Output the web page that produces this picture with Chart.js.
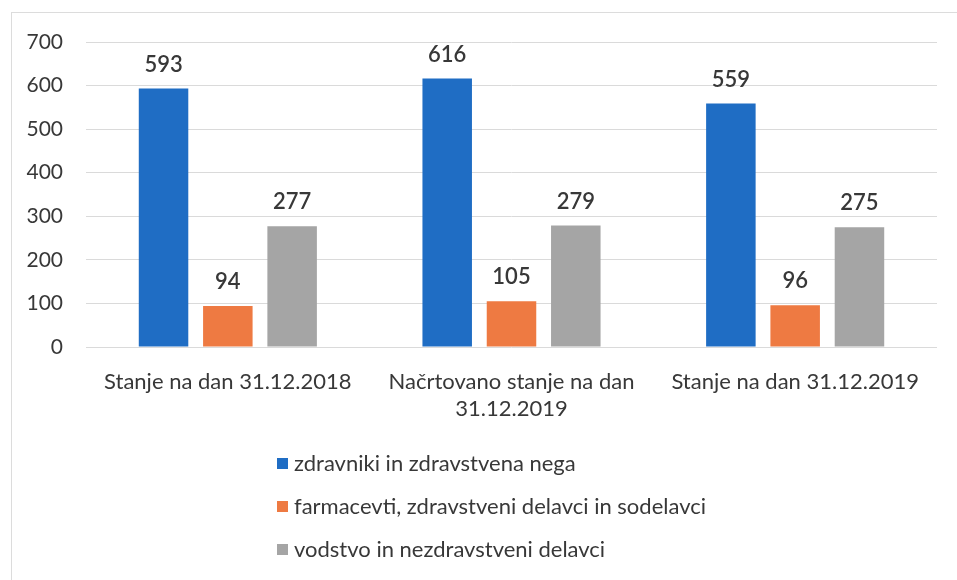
<!DOCTYPE html>
<html>
<head>
<meta charset="utf-8">
<script src="https://cdn.jsdelivr.net/npm/chart.js@4/dist/chart.umd.min.js"></script>
<style>
  html, body { margin: 0; padding: 0; background: #fff; }
  #wrap { position: relative; width: 957px; height: 580px; overflow: hidden; }
  #frame { position: absolute; left: 11px; top: 12px; width: 960px; height: 600px; border: 1px solid #dcdcdc; box-sizing: border-box; }
  canvas { position: absolute; left: 0; top: 0; }
  #legend { position: absolute; left: 277px; top: 448px; font-family: Lato, "Open Sans", sans-serif; font-size: 22px; color: #383838; }
  .item { height: 43px; display: flex; align-items: flex-start; line-height: 30px; }
  .sw { width: 11px; height: 11px; margin: 10px 6px 0 0; flex: none; }
</style>
</head>
<body>
<div id="wrap">
  <div id="frame"></div>
  <canvas id="c" width="957" height="580"></canvas>
  <div id="legend"></div>
</div>
<script>
const categories = [["Stanje na dan 31.12.2018"], ["Načrtovano stanje na dan", "31.12.2019"], ["Stanje na dan 31.12.2019"]];
const seriesNames = ["zdravniki in zdravstvena nega", "farmacevti, zdravstveni delavci in sodelavci", "vodstvo in nezdravstveni delavci"];
const doctors = [593, 616, 559];
const pharmacists = [94, 105, 96];
const management = [277, 279, 275];
const yTicks = [0, 100, 200, 300, 400, 500, 600, 700];
const colors = ["#1F6DC4", "#EE7A42", "#A5A5A5"];

const FONT = 'Lato, "Open Sans", sans-serif';

const valueLabels = {
  id: 'valueLabels',
  afterDatasetsDraw(chart) {
    const ctx = chart.ctx;
    ctx.save();
    ctx.font = '600 22px ' + FONT;
    ctx.fillStyle = '#383838';
    ctx.textAlign = 'center';
    ctx.textBaseline = 'middle';
    chart.data.datasets.forEach((ds, i) => {
      chart.getDatasetMeta(i).data.forEach((bar, j) => {
        ctx.fillText(String(ds.data[j]), bar.x, bar.y - 24);
      });
    });
    ctx.restore();
  }
};

const series = [doctors, pharmacists, management];
const chart = new Chart(document.getElementById('c'), {
  type: 'bar',
  data: {
    labels: categories,
    datasets: series.map((d, i) => ({
      label: seriesNames[i],
      data: d,
      backgroundColor: colors[i],
      categoryPercentage: 0.68,
      barPercentage: 0.77
    }))
  },
  options: {
    responsive: false,
    animation: false,
    layout: { padding: { left: 11, right: 20, top: 42, bottom: 0 } },
    plugins: { legend: { display: false }, tooltip: { enabled: false } },
    scales: {
      x: {
        grid: { display: false, drawTicks: false },
        border: { display: false },
        ticks: { font: { family: FONT, size: 22 }, color: '#383838', padding: 22, maxRotation: 0 },
        afterFit(s) { s.height = 233; }
      },
      y: {
        min: 0, max: 700,
        afterBuildTicks(s) { s.ticks = yTicks.map(v => ({ value: v })); },
        grid: { color: '#dadada', drawTicks: false },
        border: { display: false },
        ticks: { font: { family: FONT, size: 21 }, color: '#383838', padding: 23 },
        afterFit(s) { s.width = 75; }
      }
    }
  },
  plugins: [valueLabels]
});

const lg = document.getElementById('legend');
seriesNames.forEach((n, i) => {
  const it = document.createElement('div');
  it.className = 'item';
  it.innerHTML = '<span class="sw" style="background:' + colors[i] + '"></span><span></span>';
  it.lastChild.textContent = n;
  lg.appendChild(it);
});
</script>
</body>
</html>
